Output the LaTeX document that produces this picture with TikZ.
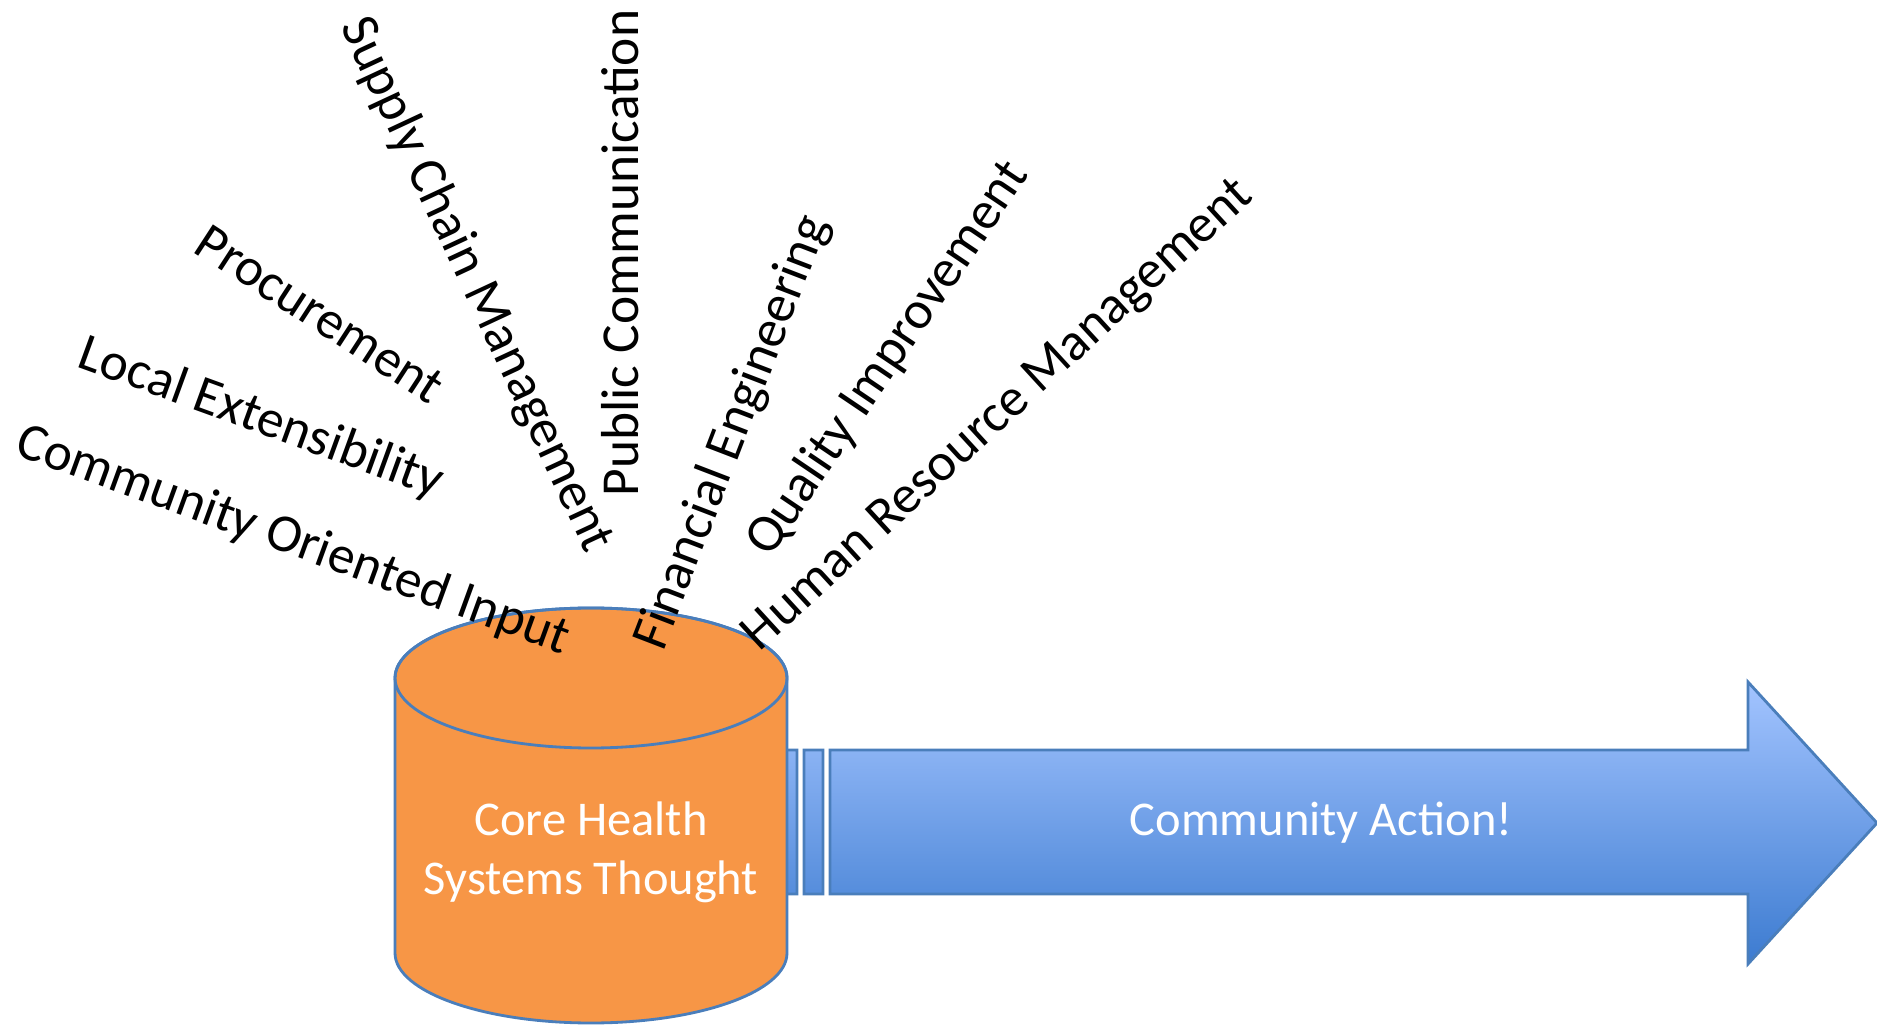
\documentclass[tikz,border=0pt]{standalone}
\usepackage{fontspec}
\setmainfont{Carlito}
\definecolor{cylorange}{HTML}{F79646}
\definecolor{edgeblue}{HTML}{4A7EBB}
\definecolor{arrowtop}{HTML}{A3C4FF}
\definecolor{arrowbot}{HTML}{3C7BD0}

\begin{document}
\begin{tikzpicture}[inner sep=0pt,outer sep=0pt,
    every node/.style={font=\fontsize{15.2}{18}\selectfont},
    topic/.style={text=black},
    inside/.style={text=white, align=center, font=\fontsize{13.8}{16.8}\selectfont}]
    \useasboundingbox (0,0) rectangle (18.77,-10.26);
    % striped arrow, drawn first so the cylinder hides its first stripe
    \path[draw=edgeblue, line width=0.8pt, top color=arrowtop, bottom color=arrowbot]
        (7.80,-7.50) rectangle (7.97,-8.94)
        (8.04,-7.50) rectangle (8.23,-8.94)
        (8.30,-7.50) -- (17.48,-7.50) -- (17.48,-6.82) -- (18.77,-8.23)
        -- (17.48,-9.64) -- (17.48,-8.94) -- (8.30,-8.94) -- cycle;
    % cylinder
    \filldraw[draw=edgeblue, fill=cylorange, line width=0.8pt]
        (3.95,-6.78) -- (3.95,-9.53)
        arc[start angle=180, end angle=360, x radius=1.96cm, y radius=0.70cm]
        -- (7.87,-6.78)
        arc[start angle=0, end angle=180, x radius=1.96cm, y radius=0.70cm] -- cycle;
    \draw[edgeblue, line width=0.8pt] (5.91,-6.78) ellipse[x radius=1.96cm, y radius=0.70cm];
    \node[inside] (core) at (5.91,-8.52) {Core Health\\Systems Thought};
    \node[inside] (action) at (13.21,-8.23) {Community Action!};
    % fan of topics above the cylinder
    \node[topic, rotate=-20] (coi) at (2.93,-5.41) {Community Oriented Input};
    \node[topic, rotate=-20] (locext) at (2.61,-4.19) {Local Extensibility};
    \node[topic, rotate=-33] (procure) at (3.20,-3.14) {Procurement};
    \node[topic, rotate=-65] (supply) at (4.76,-2.85) {Supply Chain Management};
    \node[topic, rotate=90] (pubcom) at (6.20,-2.53) {Public Communication};
    \node[topic, rotate=69] (fineng) at (7.33,-4.33) {Financial Engineering};
    \node[topic, rotate=56] (quality) at (8.88,-3.59) {Quality Improvement};
    \node[topic, rotate=42.5] (hrm) at (9.99,-4.16) {Human Resource Management};
\end{tikzpicture}
\end{document}
